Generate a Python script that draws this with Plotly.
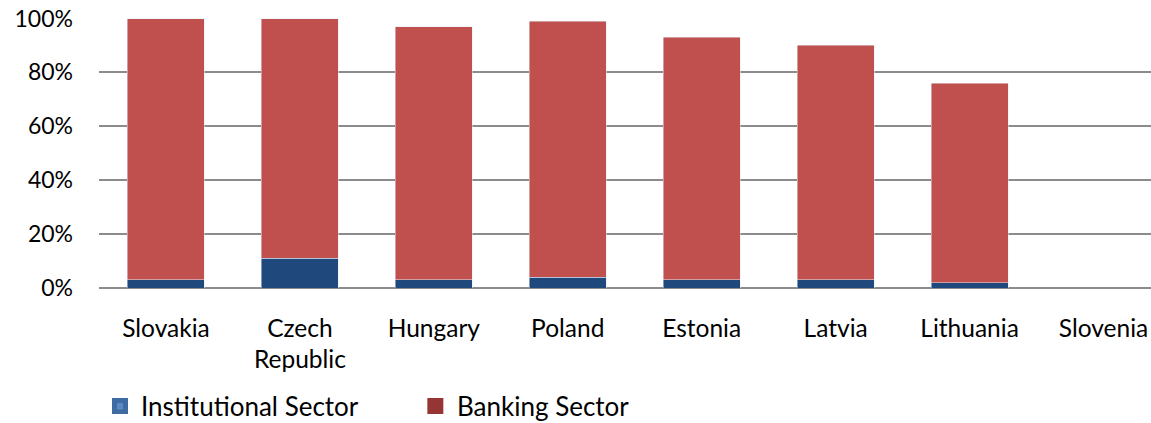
import plotly.graph_objects as go

# Share of each sector, percent of total
countries = ["Slovakia", "Czech<br>Republic", "Hungary", "Poland", "Estonia",
             "Latvia", "Lithuania", "Slovenia"]
institutional = [3, 11, 3, 4, 3, 3, 2, 0]
banking = [97, 89, 94, 95, 90, 87, 74, 0]
y_ticks = [0, 20, 40, 60, 80, 100]
y_tick_text = ["0%", "20%", "40%", "60%", "80%", "100%"]

W, H = 1151, 423
ML, MT, MB = 98.5, 18, 135
plot_w = W - ML
plot_h = H - MT - MB
slot_px = 134  # width of one category slot

FONT = "Lato"
BLUE = "#1F497D"
RED = "#C0504D"
GRID = "#8C8C8C"

fig = go.Figure()
fig.add_trace(go.Bar(x=countries, y=institutional, marker_color=BLUE,
                     name="Institutional Sector", showlegend=False))
fig.add_trace(go.Bar(x=countries, y=banking, marker_color=RED,
                     name="Banking Sector", showlegend=False))


def px_x(px):
    return (px - ML) / plot_w


def px_y(py):
    return (H - MB - py) / plot_h


shapes = [
    # Institutional Sector key
    dict(type="rect", xref="paper", yref="paper",
         x0=px_x(111.5), x1=px_x(127.5), y0=px_y(414), y1=px_y(398),
         fillcolor="#3E6BA1", line=dict(width=0)),
    dict(type="rect", xref="paper", yref="paper",
         x0=px_x(116.5), x1=px_x(122.5), y0=px_y(409.5), y1=px_y(403),
         fillcolor="#5B8BC7", line=dict(width=0)),
    # Banking Sector key
    dict(type="rect", xref="paper", yref="paper",
         x0=px_x(427), x1=px_x(443), y0=px_y(414), y1=px_y(398),
         fillcolor="#963634", line=dict(width=0)),
]

annotations = [
    dict(text="Institutional Sector", xref="paper", yref="paper",
         x=px_x(139), y=px_y(406), xanchor="left", yanchor="middle",
         showarrow=False, font=dict(family=FONT, size=26, color="#000")),
    dict(text="Banking Sector", xref="paper", yref="paper",
         x=px_x(455), y=px_y(406), xanchor="left", yanchor="middle",
         showarrow=False, font=dict(family=FONT, size=26, color="#000")),
]

fig.update_layout(
    width=W, height=H,
    barmode="stack", bargap=0.425,
    margin=dict(l=ML, r=0, t=MT, b=MB, pad=0),
    paper_bgcolor="white", plot_bgcolor="white",
    font=dict(family=FONT, size=24, color="#000"),
    shapes=shapes, annotations=annotations,
    showlegend=False,
)
fig.update_xaxes(
    type="category",
    range=[-0.5, -0.5 + plot_w / slot_px],
    showgrid=False, showline=False, ticks="",
    ticklabelstandoff=23,
    tickfont=dict(family=FONT, size=24.5),
)
fig.update_yaxes(
    range=[0, 100.2],
    tickvals=y_ticks, ticktext=y_tick_text,
    showgrid=True, gridcolor=GRID, gridwidth=2,
    zeroline=True, zerolinecolor=GRID, zerolinewidth=2,
    showline=False, ticks="",
    ticklabelstandoff=25,
    tickfont=dict(family=FONT, size=23),
)

fig.write_html("out.html")
